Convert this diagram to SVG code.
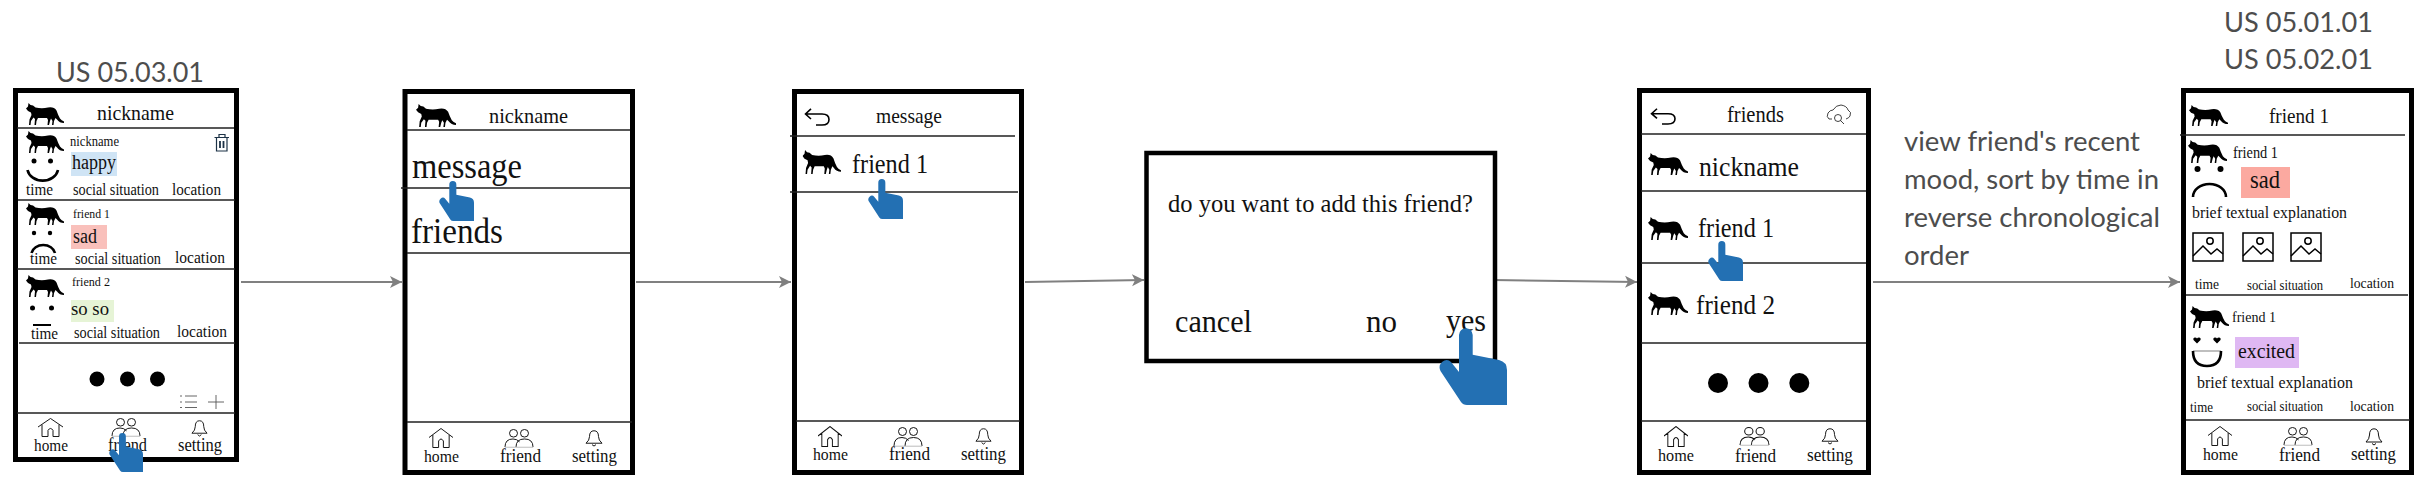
<svg xmlns="http://www.w3.org/2000/svg" width="2434" height="482" viewBox="0 0 2434 482">
<style>
text{font-family:"Liberation Serif","DejaVu Serif",serif;fill:#111}
.h{font-family:Lato,"Liberation Sans",sans-serif;fill:#4d4d4d;font-size:27px}
.frame{fill:#fff;stroke:#000;stroke-width:5}
.sep{stroke:#222;stroke-width:1.3;fill:none}
.face{fill:none;stroke:#000;stroke-width:2.6}
.ic{fill:none;stroke:#111;stroke-width:1}
.c{stroke:#808080;stroke-width:2;fill:none;marker-end:url(#ah)}
</style>
<defs>
<marker id="ah" markerUnits="userSpaceOnUse" markerWidth="13" markerHeight="13" refX="12" refY="6.5" orient="auto"><path d="M0 .5L12 6.5L0 12.500L3 6.500Z" fill="#808080"/></marker>
<symbol id="cat" viewBox="0 0 38 22" preserveAspectRatio="none"><path fill="#000" d="M2.500 0L4.500 2L7 2.500L9.500 4.500Q16 6 22 4.500Q28 3.500 30.500 7.500Q32 12 34 15.500Q35.500 17.500 38 18.500L38 20Q33.500 20 31 16.500L29.500 15L28 18L27.500 22L26 22L26.500 18L25 15.500L24 18L23 22L21.500 22L22 17L21 15L12 15L10.500 18L10 22L8.500 22L9 16L7.500 14.500L5 18L4.500 22L3 22L3.500 16.500L5.500 12L5 9.500L2 8L0 5.500L2 3.500Z"/></symbol>
<symbol id="hand" viewBox="0 0 68 77" preserveAspectRatio="none"><path fill="#2370b3" d="M20 7A6.850 6.850 0 0 1 33.700 7L33.700 26.700L60 32Q68 34 68 42L68 77L28 77Q24 77 22 74L1.500 43Q-1 38 3 34Q8 30 12 34L20 44Z"/></symbol>
<symbol id="home" viewBox="0 0 25 20" preserveAspectRatio="none"><path class="ic" d="M0 9.500L12.500 .5L25 9.500M4 7V19.500H10V13Q12.500 9 15 13V19.500H21V7"/></symbol>
<symbol id="friends" viewBox="0 0 30 20" preserveAspectRatio="none"><circle class="ic" cx="9.500" cy="4.500" r="4"/><circle class="ic" cx="20.500" cy="4.500" r="4"/><path class="ic" d="M1 19Q1 10.500 9 10.500Q13 10.500 15.500 13.500M12 19Q12 10.500 20.500 10.500Q29 10.500 29 19"/><path d="M1 19.200H29" stroke="#bbb" stroke-width="1"/></symbol>
<symbol id="bell" viewBox="0 0 18 18" preserveAspectRatio="none"><path class="ic" stroke-width="1.200" d="M1 14Q4.500 11 4.500 7Q4.500 .8 9 .8Q13.500 .8 13.500 7Q13.500 11 17 14ZM7 15.500Q9 18.500 11 15.500"/></symbol>
<symbol id="back" viewBox="0 0 26 18" preserveAspectRatio="none"><path fill="none" stroke="#000" stroke-width="1.600" d="M7 .8L1.500 6L7 11M1.500 6H18Q25 6 25 11.500Q25 17 18 17H12"/></symbol>
<symbol id="pic" viewBox="0 0 32 30" preserveAspectRatio="none"><rect x="1" y="1" width="30" height="28" fill="none" stroke="#000" stroke-width="1.500"/><circle cx="18" cy="9" r="3.200" fill="none" stroke="#000" stroke-width="1.500"/><path d="M1 24L11 14L19 22L25 17L31 22" fill="none" stroke="#000" stroke-width="1.500"/></symbol>
</defs>
<rect width="2434" height="482" fill="#fff"/>
<g id="connectors">
<path class="c" d="M241 282H402"/>
<path class="c" d="M636 282H791"/>
<path class="c" d="M1025 282L1144 280"/>
<path class="c" d="M1493 280L1637 282"/>
<path class="c" d="M1873 282H2180"/>
</g>
<g id="label-left"><text class="h" x="56" y="82" textLength="148" lengthAdjust="spacingAndGlyphs">US 05.03.01</text></g>
<g id="screen1">
<rect class="frame" x="15.500" y="90.500" width="221" height="369"/>
<use href="#cat" x="26" y="103" width="38" height="22"/>
<text x="97" y="120" font-size="22" textLength="77" lengthAdjust="spacingAndGlyphs">nickname</text>
<path class="sep" d="M17 128H234M18 200H235M17 269H235M19 343H235M17 413H235"/>
<use href="#cat" x="26" y="131" width="38" height="22"/>
<text x="70" y="146" font-size="13.800" textLength="49" lengthAdjust="spacingAndGlyphs">nickname</text>
<g fill="none" stroke="#1d3347" stroke-width="1.200"><path d="M214.500 137.500H229M219 137.500V134.500H225V137.500M216.500 138V151H227V138"/><path d="M220 141V148M223.500 141V148" stroke-width="1.800"/></g>
<rect x="71" y="152" width="46" height="24" fill="#cfe4f5"/>
<text x="72" y="169" font-size="20" textLength="44" lengthAdjust="spacingAndGlyphs">happy</text>
<circle cx="34" cy="161" r="2.500"/><circle cx="50.500" cy="161" r="2.500"/>
<path class="face" d="M27.500 170A15.500 13 0 0 0 58 170"/>
<text x="26" y="195" font-size="17" textLength="27" lengthAdjust="spacingAndGlyphs">time</text>
<text x="73" y="195" font-size="15.700" textLength="86" lengthAdjust="spacingAndGlyphs">social situation</text>
<text x="172" y="195" font-size="16.700" textLength="49" lengthAdjust="spacingAndGlyphs">location</text>
<use href="#cat" x="26" y="203" width="38" height="22"/>
<text x="73" y="218" font-size="13.200" textLength="37" lengthAdjust="spacingAndGlyphs">friend 1</text>
<rect x="71" y="225" width="36" height="24" fill="#f9c0bb"/>
<text x="73" y="243" font-size="20" textLength="24" lengthAdjust="spacingAndGlyphs">sad</text>
<circle cx="34" cy="233" r="2.200"/><circle cx="50" cy="233" r="2.200"/>
<path class="face" d="M31.500 253A12 10 0 0 1 55 253"/>
<text x="30" y="264" font-size="17" textLength="27" lengthAdjust="spacingAndGlyphs">time</text>
<text x="75" y="264" font-size="15.700" textLength="86" lengthAdjust="spacingAndGlyphs">social situation</text>
<text x="175" y="263" font-size="16.700" textLength="50" lengthAdjust="spacingAndGlyphs">location</text>
<use href="#cat" x="26" y="275" width="38" height="22"/>
<text x="72" y="286" font-size="13.200" textLength="38" lengthAdjust="spacingAndGlyphs">friend 2</text>
<rect x="71" y="300" width="43" height="22" fill="#e6f4d6"/>
<text x="71" y="315" font-size="19" textLength="38" lengthAdjust="spacingAndGlyphs">so so</text>
<circle cx="32.500" cy="308" r="2.500"/><circle cx="51.500" cy="308" r="2.500"/>
<path d="M33 325H51" stroke="#000" stroke-width="2"/>
<text x="31" y="339" font-size="17" textLength="27" lengthAdjust="spacingAndGlyphs">time</text>
<text x="74" y="338" font-size="15.700" textLength="86" lengthAdjust="spacingAndGlyphs">social situation</text>
<text x="177" y="337" font-size="16.700" textLength="50" lengthAdjust="spacingAndGlyphs">location</text>
<circle cx="97" cy="379" r="7.500"/><circle cx="127.500" cy="379" r="7.500"/><circle cx="157.500" cy="379" r="7.500"/>
<path d="M180 396H182M185 396H197M180 402H182M185 402H197M180 407.500H182M185 407.500H197M208 402H224M216 395V409" stroke="#555" stroke-width=".9" fill="none"/>
<use href="#home" x="38" y="418" width="25" height="19"/>
<use href="#friends" x="111" y="418" width="30" height="19"/>
<use href="#bell" x="191" y="420" width="17" height="17"/>
<text x="34" y="451" font-size="16.800" textLength="34" lengthAdjust="spacingAndGlyphs">home</text>
<text x="108" y="451" font-size="17.900" textLength="39" lengthAdjust="spacingAndGlyphs">friend</text>
<text x="178" y="451" font-size="18" textLength="44" lengthAdjust="spacingAndGlyphs">setting</text>
<use href="#hand" x="109" y="433" width="34" height="39"/>
</g>
<g id="screen2">
<rect class="frame" x="405" y="91.500" width="227.500" height="381"/>
<use href="#cat" x="416" y="104" width="40" height="23"/>
<text x="489" y="122.700" font-size="22" textLength="79" lengthAdjust="spacingAndGlyphs">nickname</text>
<path class="sep" d="M407 130H630M401 188H630M407 253H630M407 422H632"/>
<text x="412" y="178" font-size="35" textLength="110" lengthAdjust="spacingAndGlyphs">message</text>
<text x="411" y="243" font-size="36" textLength="92" lengthAdjust="spacingAndGlyphs">friends</text>
<use href="#hand" x="439" y="181" width="35" height="40"/>
<use href="#home" x="429" y="428" width="24" height="20"/>
<use href="#friends" x="504" y="429" width="30" height="19"/>
<use href="#bell" x="585" y="430" width="18" height="17"/>
<text x="424" y="462" font-size="16.800" textLength="35" lengthAdjust="spacingAndGlyphs">home</text>
<text x="500" y="462" font-size="17.900" textLength="41" lengthAdjust="spacingAndGlyphs">friend</text>
<text x="572" y="462" font-size="18" textLength="45" lengthAdjust="spacingAndGlyphs">setting</text>
</g>
<g id="screen3">
<rect class="frame" x="794.500" y="91.500" width="227" height="381"/>
<use href="#back" x="804" y="108" width="26" height="18"/>
<text x="876" y="123" font-size="21.500" textLength="66" lengthAdjust="spacingAndGlyphs">message</text>
<path class="sep" d="M790 136H1015M790 192H1018M796 421H1020"/>
<use href="#cat" x="802.500" y="150" width="38.500" height="24"/>
<text x="852" y="173" font-size="26.500" textLength="76" lengthAdjust="spacingAndGlyphs">friend 1</text>
<use href="#hand" x="868" y="179" width="35" height="40"/>
<use href="#home" x="818" y="426" width="24" height="21"/>
<use href="#friends" x="893" y="427" width="30" height="20"/>
<use href="#bell" x="975" y="428" width="17" height="17"/>
<text x="813" y="460" font-size="16.800" textLength="35" lengthAdjust="spacingAndGlyphs">home</text>
<text x="889" y="460" font-size="17.900" textLength="41" lengthAdjust="spacingAndGlyphs">friend</text>
<text x="961" y="460" font-size="18" textLength="45" lengthAdjust="spacingAndGlyphs">setting</text>
</g>
<g id="dialog">
<rect x="1146.500" y="153" width="348.500" height="208" fill="#fff" stroke="#000" stroke-width="4.500"/>
<text x="1168" y="212" font-size="25.500" textLength="305" lengthAdjust="spacingAndGlyphs">do you want to add this friend?</text>
<text x="1175" y="332" font-size="32" textLength="77" lengthAdjust="spacingAndGlyphs">cancel</text>
<text x="1366" y="332" font-size="32" textLength="31" lengthAdjust="spacingAndGlyphs">no</text>
<text x="1446" y="331" font-size="32" textLength="40" lengthAdjust="spacingAndGlyphs">yes</text>
<use href="#hand" x="1439" y="328" width="68" height="77"/>
</g>
<g id="screen5">
<rect class="frame" x="1639.500" y="90.500" width="229" height="382"/>
<use href="#back" x="1650" y="108" width="26" height="17"/>
<text x="1727" y="122" font-size="22.500" textLength="57" lengthAdjust="spacingAndGlyphs">friends</text>
<g fill="none" stroke="#111" stroke-width=".8"><path d="M1832 119H1829Q1826 117 1828 113Q1830 110 1833 110Q1836 105 1841 105Q1847 106 1848 110Q1852 112 1850 116Q1849 118 1846 119"/><circle cx="1838" cy="118" r="3.500"/><path d="M1840.500 120.500L1844 124"/></g>
<path class="sep" d="M1641 134H1866M1641 191H1866M1641 263H1866M1641 343H1866M1641 421H1866"/>
<use href="#cat" x="1648" y="153" width="40" height="22"/>
<text x="1699" y="176" font-size="28" textLength="100" lengthAdjust="spacingAndGlyphs">nickname</text>
<use href="#cat" x="1648" y="217" width="40" height="23"/>
<text x="1698" y="237" font-size="26.500" textLength="76" lengthAdjust="spacingAndGlyphs">friend 1</text>
<use href="#hand" x="1708" y="241" width="35" height="40"/>
<use href="#cat" x="1648" y="292" width="40" height="23"/>
<text x="1696" y="314" font-size="27.500" textLength="79" lengthAdjust="spacingAndGlyphs">friend 2</text>
<circle cx="1718" cy="383" r="10"/><circle cx="1758.500" cy="383" r="10"/><circle cx="1799.300" cy="383" r="10"/>
<use href="#home" x="1664" y="426" width="24" height="21"/>
<use href="#friends" x="1739" y="427" width="31" height="19"/>
<use href="#bell" x="1821" y="428" width="18" height="17"/>
<text x="1658" y="461" font-size="16.800" textLength="36" lengthAdjust="spacingAndGlyphs">home</text>
<text x="1735" y="462" font-size="17.900" textLength="41" lengthAdjust="spacingAndGlyphs">friend</text>
<text x="1807" y="461" font-size="18" textLength="46" lengthAdjust="spacingAndGlyphs">setting</text>
</g>
<g id="note">
<text class="h" x="1904" y="151" textLength="236" lengthAdjust="spacingAndGlyphs">view friend's recent</text>
<text class="h" x="1904" y="189" textLength="255" lengthAdjust="spacingAndGlyphs">mood, sort by time in</text>
<text class="h" x="1904" y="227" textLength="256" lengthAdjust="spacingAndGlyphs">reverse chronological</text>
<text class="h" x="1904" y="265" textLength="65" lengthAdjust="spacingAndGlyphs">order</text>
</g>
<g id="label-right">
<text class="h" x="2224" y="32" textLength="149" lengthAdjust="spacingAndGlyphs">US 05.01.01</text>
<text class="h" x="2224" y="69" textLength="149" lengthAdjust="spacingAndGlyphs">US 05.02.01</text>
</g>
<g id="screen6">
<rect class="frame" x="2183.500" y="90.500" width="228" height="382"/>
<use href="#cat" x="2189" y="105" width="39" height="21"/>
<text x="2269" y="123" font-size="21" textLength="60" lengthAdjust="spacingAndGlyphs">friend 1</text>
<path class="sep" d="M2180 135H2405M2186 295H2408M2186 420H2410"/>
<use href="#cat" x="2188" y="140" width="39" height="23"/>
<text x="2233" y="158" font-size="15.700" textLength="45" lengthAdjust="spacingAndGlyphs">friend 1</text>
<circle cx="2197.500" cy="169" r="3"/><circle cx="2220.500" cy="169" r="3"/>
<path class="face" d="M2193 197A16.500 13 0 0 1 2226 197"/>
<rect x="2241" y="167" width="49" height="31" fill="#fba9a0"/>
<text x="2250" y="188" font-size="24.500" textLength="30" lengthAdjust="spacingAndGlyphs">sad</text>
<text x="2192" y="218" font-size="17" textLength="155" lengthAdjust="spacingAndGlyphs">brief textual explanation</text>
<use href="#pic" x="2192" y="232" width="32" height="30"/>
<use href="#pic" x="2242" y="232" width="32" height="30"/>
<use href="#pic" x="2290" y="232" width="32" height="30"/>
<text x="2195" y="289" font-size="15.400" textLength="24" lengthAdjust="spacingAndGlyphs">time</text>
<text x="2247" y="290" font-size="13.900" textLength="76" lengthAdjust="spacingAndGlyphs">social situation</text>
<text x="2350" y="288" font-size="15" textLength="44" lengthAdjust="spacingAndGlyphs">location</text>
<use href="#cat" x="2190" y="306" width="39" height="22"/>
<text x="2232" y="322" font-size="15.400" textLength="44" lengthAdjust="spacingAndGlyphs">friend 1</text>
<path d="M2197 343.500l-3.500-3.500q-.7-2.500 1.500-2.500q1.500 0 2 1q.5-1 2-1q2.200 0 1.500 2.500zM2217 343.500l-3.500-3.500q-.7-2.500 1.500-2.500q1.500 0 2 1q.5-1 2-1q2.200 0 1.500 2.500z"/>
<path d="M2193 351H2221" stroke="#aaa" stroke-width="1.500"/>
<path d="M2193 351Q2193 366 2207 366Q2221 366 2221 351" fill="none" stroke="#000" stroke-width="2.600"/>
<rect x="2235" y="337" width="64" height="31" fill="#dfb8f3"/>
<text x="2238" y="358" font-size="22" textLength="57" lengthAdjust="spacingAndGlyphs">excited</text>
<text x="2197" y="388" font-size="17" textLength="156" lengthAdjust="spacingAndGlyphs">brief textual explanation</text>
<text x="2190" y="412" font-size="15.400" textLength="23" lengthAdjust="spacingAndGlyphs">time</text>
<text x="2247" y="411" font-size="13.900" textLength="76" lengthAdjust="spacingAndGlyphs">social situation</text>
<text x="2350" y="411" font-size="15" textLength="44" lengthAdjust="spacingAndGlyphs">location</text>
<use href="#home" x="2208" y="426" width="24" height="20"/>
<use href="#friends" x="2283" y="427" width="30" height="19"/>
<use href="#bell" x="2365" y="428" width="18" height="18"/>
<text x="2203" y="460" font-size="16.800" textLength="35" lengthAdjust="spacingAndGlyphs">home</text>
<text x="2279" y="461" font-size="17.900" textLength="41" lengthAdjust="spacingAndGlyphs">friend</text>
<text x="2351" y="460" font-size="18" textLength="45" lengthAdjust="spacingAndGlyphs">setting</text>
</g>
</svg>
